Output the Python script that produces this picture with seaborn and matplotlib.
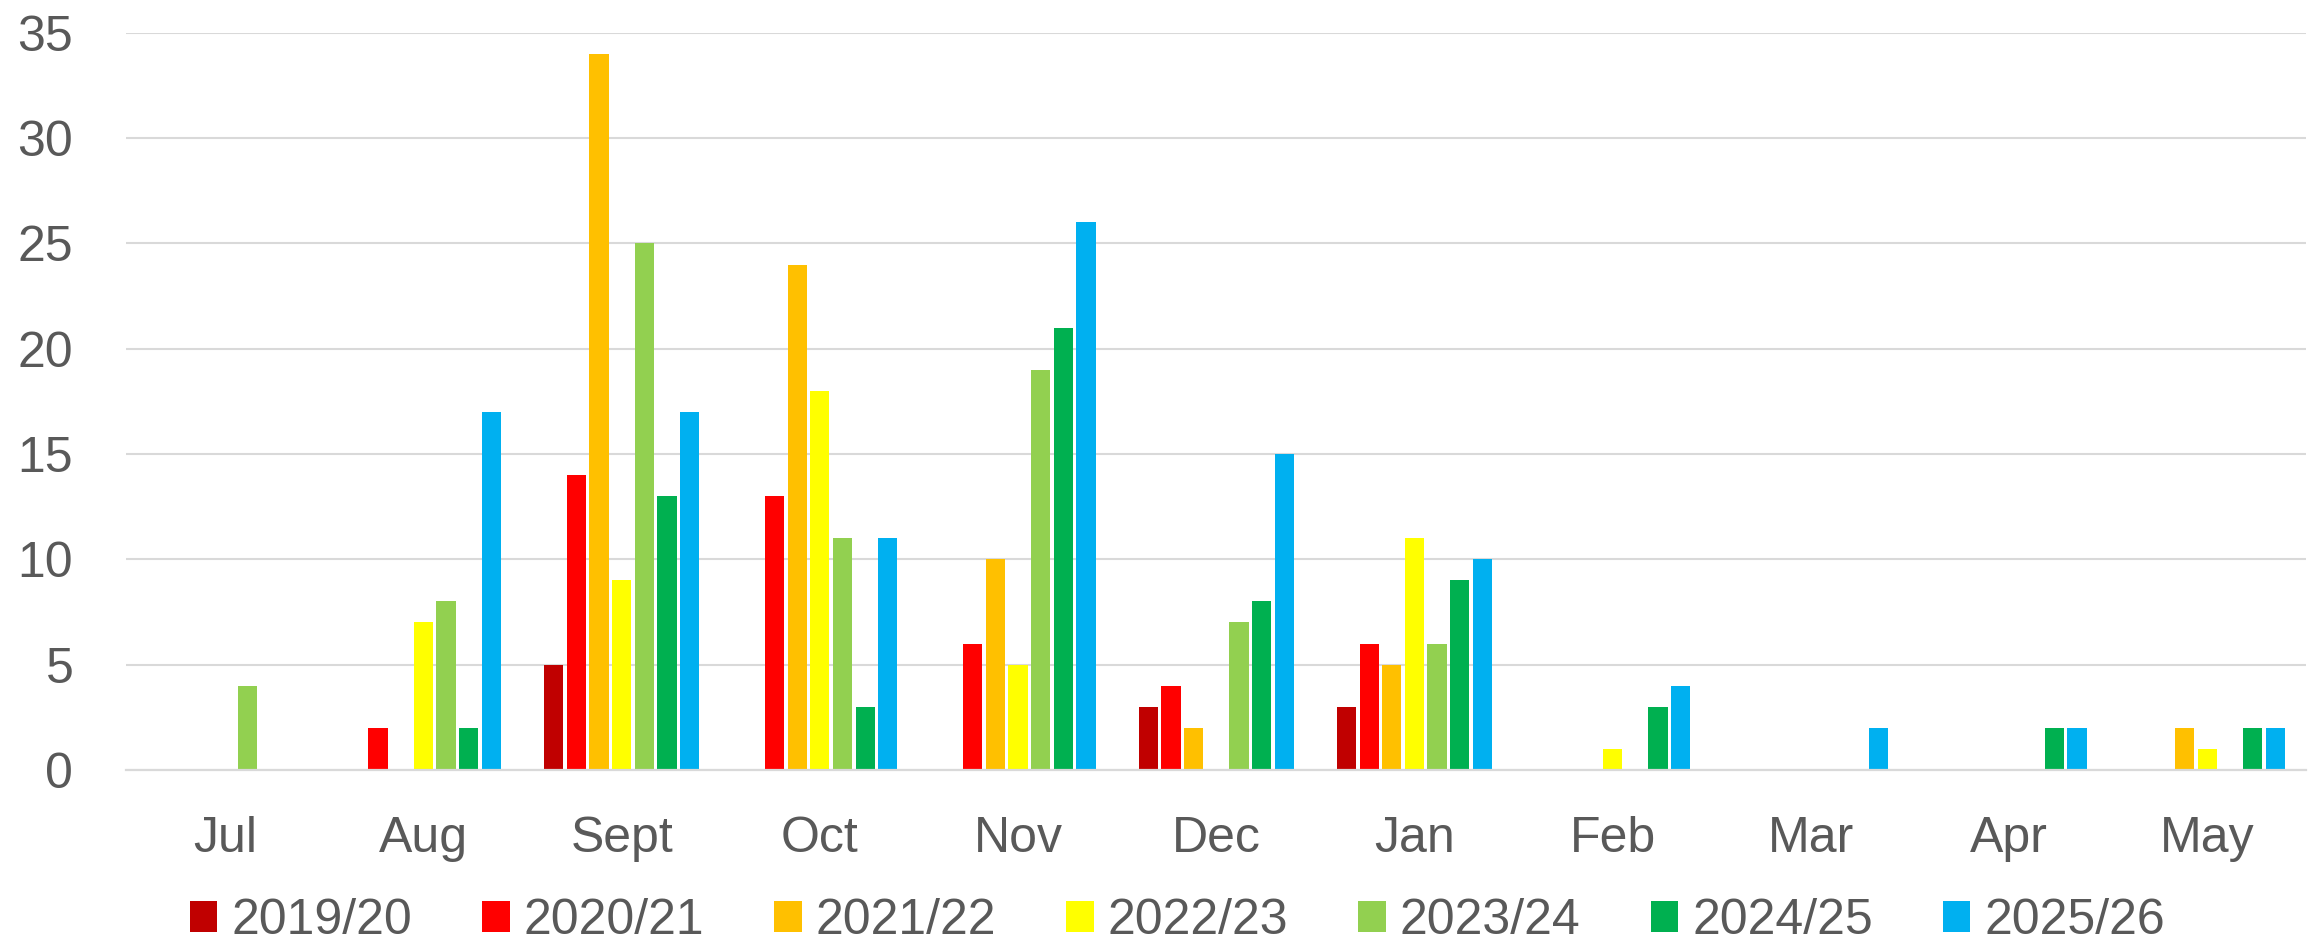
import pandas as pd
import seaborn as sns
import matplotlib.pyplot as plt

months = ["Jul", "Aug", "Sept", "Oct", "Nov", "Dec", "Jan", "Feb", "Mar", "Apr", "May"]
seasons = ["2019/20", "2020/21", "2021/22", "2022/23", "2023/24", "2024/25", "2025/26"]

s2019 = [0, 0, 5, 0, 0, 3, 3, 0, 0, 0, 0]
s2020 = [0, 2, 14, 13, 6, 4, 6, 0, 0, 0, 0]
s2021 = [0, 0, 34, 24, 10, 2, 5, 0, 0, 0, 2]
s2022 = [0, 7, 9, 18, 5, 0, 11, 1, 0, 0, 1]
s2023 = [4, 8, 25, 11, 19, 7, 6, 0, 0, 0, 0]
s2024 = [0, 2, 13, 3, 21, 8, 9, 3, 0, 2, 2]
s2025 = [0, 17, 17, 11, 26, 15, 10, 4, 2, 2, 2]

colors = ["#C00000", "#FF0000", "#FFC000", "#FFFF00", "#92D050", "#00B050", "#00B0F0"]

series = [s2019, s2020, s2021, s2022, s2023, s2024, s2025]
rows = []
for season, vals in zip(seasons, series):
    for m, v in zip(months, vals):
        rows.append({"month": m, "season": season, "count": v})
df = pd.DataFrame(rows)

sns.set_theme(style="white")
plt.rcParams["font.family"] = ["Liberation Sans", "DejaVu Sans"]

text_col = "#595959"
grid_col = "#D9D9D9"
fsize = 36

dpi = 100
fig = plt.figure(figsize=(2318 / dpi, 940 / dpi), dpi=dpi)
ax = fig.add_axes([0.0544, 0.181, 0.9406, 0.784])

sns.barplot(data=df, x="month", y="count", hue="season", order=months,
            hue_order=seasons, palette=colors, width=0.8, gap=0.15,
            saturation=1, linewidth=0, ax=ax)

ax.set_ylim(0, 35)
ax.set_yticks(range(0, 36, 5))
ax.set_xlim(-0.5, len(months) - 0.5)
ax.yaxis.grid(True, color=grid_col, linewidth=1.5)
ax.set_axisbelow(True)
for side in ["left", "right", "top"]:
    ax.spines[side].set_visible(False)
ax.spines["bottom"].set_color(grid_col)
ax.spines["bottom"].set_linewidth(1.6)
ax.set_xlabel("")
ax.set_ylabel("")
ax.tick_params(axis="y", length=0, pad=38, labelsize=fsize, labelcolor=text_col)
ax.tick_params(axis="x", length=0, pad=33, labelsize=fsize, labelcolor=text_col)

handles, labels = ax.get_legend_handles_labels()
ax.legend(handles, labels, ncol=7, loc="center", bbox_to_anchor=(0.508, 0.02),
          bbox_transform=fig.transFigure, frameon=False, fontsize=fsize,
          handlelength=0.55, handleheight=0.55, handletextpad=0.28,
          columnspacing=1.4, labelcolor=text_col)

fig.savefig("out.png", dpi=dpi)
